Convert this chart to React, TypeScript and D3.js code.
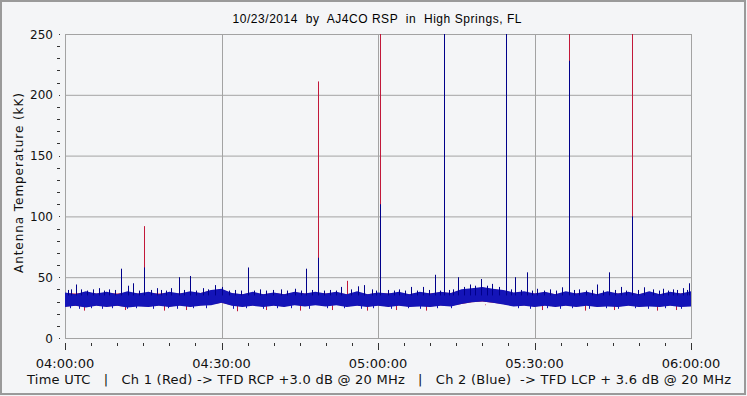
import React from 'react';
import * as d3 from 'd3';

const W = 747;
const H = 396;
const M = { left: 65, right: 691, top: 34, bottom: 338 };

const title = '10/23/2014  by  AJ4CO RSP  in  High Springs, FL';
const yLabel = 'Antenna Temperature (kK)';
const footer = 'Time UTC   |   Ch 1 (Red) -> TFD RCP +3.0 dB @ 20 MHz   |   Ch 2 (Blue)  -> TFD LCP + 3.6 dB @ 20 MHz';
const xTickLabels = ['04:00:00', '04:30:00', '05:00:00', '05:30:00', '06:00:00'];
const yTicks = [0, 50, 100, 150, 200, 250];

// band envelope, every 2 minutes from 04:00 (minutes after 04:00)
const binTimes = d3.range(0, 121, 2);
const blueHi = [
  37.5, 36, 38.5, 36.5, 38, 36, 38.5, 36.5, 38, 36,
  38, 36.5, 38.5, 37, 39.5, 40.5, 37, 36, 38, 36,
  37.5, 36, 38, 36.5, 38, 36.5, 38, 36, 38.5, 36,
  37.5, 36.5, 38, 36, 38, 36.5, 38, 37, 40, 41,
  42, 40.5, 39.5, 37.5, 38.5, 36.5, 38, 36, 38.5, 36.5,
  38, 36, 38.5, 36.5, 38, 36, 38.5, 36, 38, 36.5,
  38.5];
const blueLo = [
  25.5, 26.5, 25, 26.5, 25.5, 26.5, 25, 26, 25.5, 26.5,
  25.5, 26.5, 25.5, 26.5, 27, 29, 26.5, 25.5, 26.5, 25.5,
  26.5, 25.5, 27, 26, 27, 26, 27, 25.5, 26.5, 25.5,
  26.5, 25.5, 26.5, 25.5, 26, 25.5, 26.5, 26, 28, 29.5,
  30, 29, 27.5, 26, 26.5, 25.5, 26.5, 25.5, 26.5, 25.5,
  26.5, 25.5, 26, 25.5, 26.5, 25.5, 26, 25.5, 26.5, 25.5,
  26];
const redHi = [
  37, 36.5, 37.5, 36.5, 37, 36.5, 37.5, 36.5, 37, 36.5,
  37, 36.5, 37.5, 37, 39, 40, 36.5, 36, 37, 36,
  37, 36, 37.5, 36.5, 37, 36.5, 37.5, 36, 37.5, 36,
  37, 36.5, 37, 36, 37.5, 36.5, 37.5, 37, 39.5, 40.5,
  41.5, 40, 39, 37, 37.5, 36.5, 37.5, 36, 37.5, 36.5,
  37.5, 36, 37.5, 36.5, 37.5, 36, 37.5, 36, 37.5, 36.5,
  37.5];
const redLo = [
  26, 26.5, 25.5, 27, 26, 26.5, 25.5, 26.5, 26, 27,
  26, 27, 26, 27, 27.5, 29, 27, 26, 27, 26,
  27, 26, 27.5, 26.5, 27.5, 26.5, 27.5, 26, 27, 26,
  27, 26, 27, 26, 26.5, 26, 27, 26.5, 28, 29.5,
  30, 29, 28, 26.5, 27, 26, 27, 26, 27, 26,
  27, 26, 26.5, 26, 27, 26, 26.5, 26, 27, 26,
  26.5];

// spikes: [minutes after 04:00, value]
const redSpikes = [[15.1, 92], [48.5, 211], [54.0, 47], [60.4, 260], [96.6, 260], [108.7, 260]];
const blueSpikes = [[2.1, 44], [10.7, 57], [15.1, 58], [21.9, 50], [24.0, 51], [35.1, 58], [46.2, 57],
  [48.5, 66], [60.4, 110], [70.9, 52], [72.6, 260], [75.3, 50], [84.5, 260], [86.3, 50], [88.6, 54],
  [96.6, 228], [104.3, 54], [108.7, 100], [119.6, 45]];
const blueSmall = [[0.6, 39.5], [1.2, 40], [3.0, 40], [4.2, 39], [5.4, 40], [6.6, 41], [7.5, 39], [8.5, 40],
  [9.6, 39.5], [12.1, 43], [13.1, 45], [14.2, 39], [16.4, 39.5], [17.6, 41], [18.4, 39.5], [19.4, 39],
  [20.3, 41], [22.8, 39.5], [25.2, 39], [26.4, 41], [27.5, 40], [28.8, 43.5], [30.1, 42], [31.5, 39],
  [32.6, 39.5], [33.8, 39], [36.2, 39], [37.4, 40], [38.6, 39], [39.8, 39.5], [41.5, 40], [42.6, 39],
  [44.0, 40.5], [45.2, 39], [47.3, 39.5], [49.6, 39], [50.8, 39.5], [52.0, 39], [52.9, 42], [54.8, 40],
  [56.1, 42.5], [57.3, 43.5], [58.8, 40], [59.6, 39], [61.9, 39.5], [63.0, 39], [64.0, 40], [65.2, 39],
  [66.4, 42], [67.5, 39], [68.6, 42], [69.8, 39.5], [71.8, 39], [73.6, 39.5], [74.4, 40], [76.5, 42],
  [77.6, 44], [78.6, 43], [79.7, 48.5], [80.8, 43], [81.9, 44.5], [83.2, 42], [85.4, 40], [87.4, 39.5],
  [89.6, 39], [90.5, 40.5], [91.8, 39], [93.0, 40], [94.2, 39], [95.3, 41.7], [97.6, 39.5], [98.5, 40],
  [99.8, 39], [101.0, 39.5], [102.0, 44], [103.2, 39], [105.4, 39.5], [106.5, 42], [107.6, 39],
  [109.8, 39.5], [110.9, 41.7], [112.8, 40], [113.8, 39], [114.6, 40.5], [115.6, 39], [116.5, 40],
  [117.4, 39.5], [118.4, 41], [119.2, 39.5]];
const blueDips = [[0.9, 24.5], [2.6, 24], [4.9, 24.5], [7.0, 24], [9.1, 24.5], [11.8, 24], [13.6, 24.5],
  [16.9, 24], [19.8, 24.5], [21.4, 24], [24.5, 24.5], [27.0, 24.5], [32.2, 24], [34.7, 24.5], [37.9, 24],
  [40.6, 24.5], [43.3, 24.5], [46.8, 24], [50.2, 24.5], [53.4, 24.5], [56.7, 24], [59.1, 24.5], [62.5, 24],
  [65.8, 24.5], [68.1, 24], [71.3, 24.5], [74.0, 24.5], [86.9, 24.5], [89.1, 24], [92.4, 24.5], [94.8, 24],
  [97.2, 24.5], [100.4, 24], [103.7, 24.5], [106.0, 24], [109.3, 24.5], [111.8, 24], [115.1, 24.5], [118.0, 24]];
const redDips = [[3.6, 22.5], [11.5, 23], [19.0, 22.5], [23.2, 23], [33.0, 22], [38.5, 23], [45.0, 22.5],
  [51.2, 23], [57.8, 22.5], [63.5, 23], [69.2, 22.5], [78.0, 27], [80.5, 27.5], [91.4, 23], [99.6, 22.5],
  [105.3, 23], [113.5, 22.5], [117.2, 23]];

const x = d3.scaleLinear().domain([0, 120]).range([M.left, M.right]);
const y = d3.scaleLinear().domain([0, 250]).range([M.bottom, M.top]);

const GRID = '#a3a3a3';
const BLUE_BAND = '#1414b8';
const BLUE = '#00008a';
const RED = '#c2183a';
const FONT = '"DejaVu Sans", Verdana, sans-serif';

const px = (t: number) => Math.round(x(t)) + 0.5;

export default function App() {
  const area = (lo: number[], hi: number[]) =>
    d3.area<number>()
      .x((t) => x(t))
      .y0((_, i) => y(lo[i]))
      .y1((_, i) => y(hi[i]))(binTimes) || '';

  const minorX = d3.range(0, 121, 5);
  const minorY = d3.range(0, 251, 10).filter((v) => v % 50 !== 0);

  return (
    <svg width={W} height={H} style={{ position: 'absolute', left: 0, top: 0 }} fontFamily={FONT}>
      <defs>
        <clipPath id="plot">
          <rect x={M.left} y={M.top} width={M.right - M.left} height={M.bottom - M.top} />
        </clipPath>
      </defs>
      <rect x={0} y={0} width={W} height={H} fill="#f4f5f7" />
      <rect x={1} y={1} width={W - 3} height={H - 3} fill="none" stroke="#9a9a9a" strokeWidth={2} />

      <text x={377} y={23} textAnchor="middle" fontSize={12} fontFamily='"Liberation Sans", Arial, sans-serif'
        textLength={289} lengthAdjust="spacing" style={{ whiteSpace: 'pre' }}>{title}</text>

      {/* grid */}
      {yTicks.slice(1).map((v) => (
        <line key={'gy' + v} x1={M.left} x2={M.right} y1={y(v) + 0.5} y2={y(v) + 0.5} stroke={GRID} />
      ))}
      {[30, 60, 90].map((t) => (
        <line key={'gx' + t} x1={px(t)} x2={px(t)} y1={M.top} y2={M.bottom} stroke={GRID} />
      ))}
      <rect x={M.left + 0.5} y={M.top + 0.5} width={M.right - M.left} height={M.bottom - M.top} fill="none" stroke={GRID} />

      {/* data */}
      <g clipPath="url(#plot)">
        <path d={area(redLo, redHi)} fill={RED} />
        {redDips.map(([t, v], i) => (
          <line key={'rd' + i} x1={px(t)} x2={px(t)} y1={y(27)} y2={y(v)} stroke={RED} />
        ))}
        {redSpikes.map(([t, v], i) => (
          <line key={'rs' + i} x1={px(t)} x2={px(t)} y1={y(35)} y2={y(v)} stroke={RED} />
        ))}
        <path d={area(blueLo, blueHi)} fill={BLUE_BAND} />
        {blueDips.map(([t, v], i) => (
          <line key={'bd' + i} x1={px(t)} x2={px(t)} y1={y(27)} y2={y(v)} stroke={BLUE_BAND} />
        ))}
        {blueSmall.map(([t, v], i) => (
          <line key={'bm' + i} x1={px(t)} x2={px(t)} y1={y(35)} y2={y(v)} stroke={BLUE} />
        ))}
        {blueSpikes.map(([t, v], i) => (
          <line key={'bs' + i} x1={px(t)} x2={px(t)} y1={y(35)} y2={y(v)} stroke={BLUE} />
        ))}
      </g>

      {/* y axis */}
      {yTicks.map((v) => (
        <g key={'yt' + v}>
          <rect x={59} y={Math.round(y(v))} width={1} height={1} fill="#333" />
          <text x={53} y={y(v) + 4.5} textAnchor="end" fontSize={12} fill="#111">{v}</text>
        </g>
      ))}
      {minorY.map((v) => (
        <line key={'my' + v} x1={57} x2={60} y1={Math.round(y(v)) + 0.5} y2={Math.round(y(v)) + 0.5} stroke="#333" />
      ))}
      <text transform={`translate(23,183) rotate(-90)`} textAnchor="middle" fontSize={12} fill="#111"
        textLength={180} lengthAdjust="spacing">{yLabel}</text>

      {/* x axis */}
      {minorX.map((t) => (
        <line key={'mx' + t} x1={px(t)} x2={px(t)}
          y1={343} y2={t % 30 === 0 ? 350 : 346} stroke="#333" />
      ))}
      {xTickLabels.map((s, i) => (
        <text key={'xl' + i} x={x(i * 30)} y={368} textAnchor="middle" fontSize={13} fill="#111">{s}</text>
      ))}
      <text x={27} y={384} fontSize={13} fill="#111" textLength={704} lengthAdjust="spacing"
        style={{ whiteSpace: 'pre' }}>{footer}</text>
    </svg>
  );
}
